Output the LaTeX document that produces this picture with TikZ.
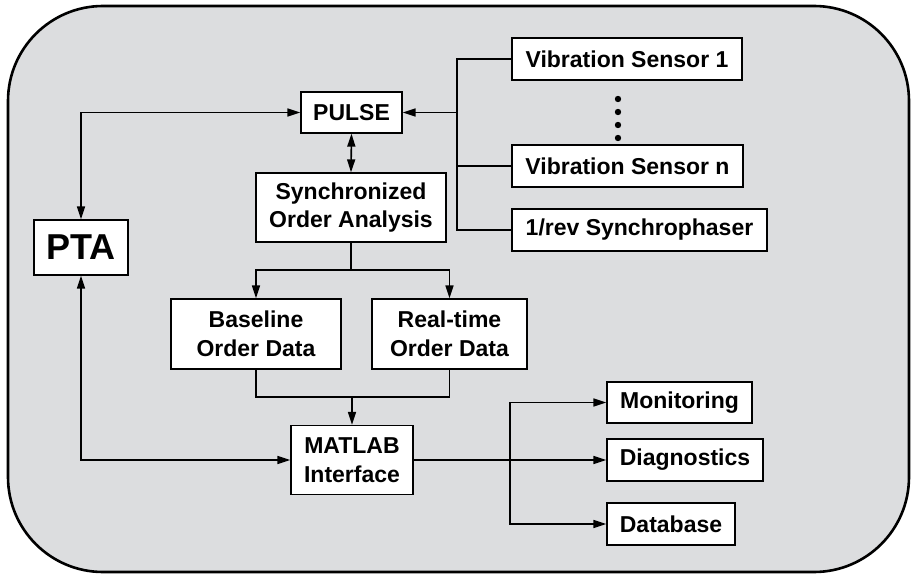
\documentclass[tikz,border=0pt]{standalone}
\usepackage{fontspec}
\setmainfont{Liberation Sans}
\usetikzlibrary{arrows.meta}
\definecolor{panel}{HTML}{DCDDDF}
\begin{document}
\begin{tikzpicture}[x=1pt,y=-1pt,
  box/.style={draw=black,fill=white,line width=1.3pt,inner sep=0pt,
    font=\fontsize{23}{28.5}\selectfont\bfseries,align=center},
  conn/.style={line width=1.6pt},
  tip/.style={-{Triangle[length=13pt,width=8pt]}},
  bitip/.style={{Triangle[length=13pt,width=8pt]}-{Triangle[length=13pt,width=8pt]}}]
\useasboundingbox (0,0) rectangle (911,575);
\draw[line width=2.6pt,fill=panel,rounded corners=95pt] (8,6) rectangle (909,572);

\node[box,minimum width=101pt,minimum height=41pt] (pulse) at (351.5,112.5) {PULSE};
\node[box,minimum width=190pt,minimum height=69pt] (soa) at (351,207.5) {Synchronized\\Order Analysis};
\node[box,minimum width=94pt,minimum height=55pt,font=\fontsize{36}{40}\selectfont\bfseries] (pta) at (81,247.5) {PTA};
\node[box,minimum width=230pt,minimum height=42pt] (vs1) at (627,59) {Vibration Sensor 1};
\node[box,minimum width=231pt,minimum height=42pt] (vsn) at (627.5,166) {Vibration Sensor n};
\node[box,minimum width=255pt,minimum height=42pt] (rev) at (639.5,230) {1/rev Synchrophaser};
\node[box,minimum width=170pt,minimum height=70pt] (base) at (256,334) {Baseline\\Order Data};
\node[box,minimum width=155pt,minimum height=70pt] (rt) at (449.5,334) {Real-time\\Order Data};
\node[box,minimum width=122pt,minimum height=69pt] (matlab) at (352,460) {MATLAB\\Interface};
\node[box,minimum width=145pt,minimum height=41pt] (mon) at (679.5,402.5) {Monitoring};
\node[box,minimum width=156pt,minimum height=42pt] (diag) at (685,460) {Diagnostics};
\node[box,minimum width=128pt,minimum height=42pt] (db) at (671,524) {Database};

\foreach \yy in {99,112,125,138} \fill (618,\yy) circle (3.2pt);

% PTA links
\draw[conn,bitip] (pulse.west) -| (pta.north);
\draw[conn,bitip] (pta.south) |- (matlab.west);
% PULSE <-> SOA
\draw[conn,bitip] (pulse.south) -- (soa.north);
% SOA -> data boxes
\coordinate (split) at (351,270);
\draw[conn,tip] (soa.south) -- (split) -| (base.north);
\draw[conn,tip] (split) -| (rt.north);
% data -> MATLAB
\coordinate (join) at (352,397);
\draw[conn] (base.south) |- (join) -| (rt.south);
\draw[conn,tip] (join) -- (matlab.north);
% sensors -> PULSE
\coordinate (sbus) at (457,112.5);
\draw[conn,tip] (sbus) -- (pulse.east);
\draw[line width=1.3pt] (sbus) |- (vs1.west);
\draw[line width=1.3pt] (sbus) |- (vsn.west);
\draw[line width=1.3pt] (sbus) |- (rev.west);
% MATLAB -> outputs
\coordinate (obus) at (510,460);
\draw[conn,tip] (matlab.east) -- (diag.west);
\draw[conn,tip] (obus) |- (mon.west);
\draw[conn,tip] (obus) |- (db.west);
\end{tikzpicture}
\end{document}
